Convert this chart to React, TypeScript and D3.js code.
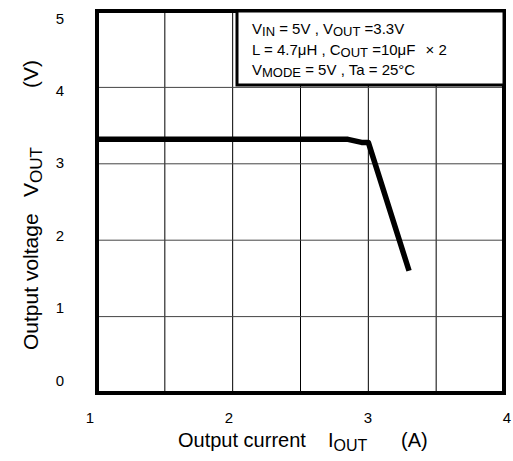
import React from "react";
import * as d3 from "d3";

const iout = [1.0, 2.85, 2.95, 3.0, 3.3];
const vout = [3.32, 3.32, 3.28, 3.28, 1.6];
const xTicks = [1, 2, 3, 4];
const yTicks = [0, 1, 2, 3, 4, 5];
const xGrid = [1.5, 2, 2.5, 3, 3.5];
const yGrid = [1, 2, 3, 4];

const W = 513, H = 461;
const L = 97, R = 504, T = 11, B = 393;

export default function App() {
  const x = d3.scaleLinear().domain([1, 4]).range([L, R]);
  const y = d3.scaleLinear().domain([0, 5]).range([B, T]);
  const xl = d3.scaleLinear().domain([1, 4]).range([90, 507]);
  const yl = d3.scaleLinear().domain([0, 5]).range([380, 18]);
  const line = d3.line<number>().x((_, i) => x(iout[i])).y((d) => y(d));
  const font = "Liberation Sans, Arial, sans-serif";
  return (
    <svg width={W} height={H} style={{ position: "absolute", left: 0, top: 0, background: "#fff" }} fontFamily={font}>
      <rect x={0} y={0} width={W} height={H} fill="#fff" />
      {xGrid.map((g) => (
        <line key={"x" + g} x1={x(g)} x2={x(g)} y1={T} y2={B} stroke="#000" strokeWidth={1} />
      ))}
      {yGrid.map((g) => (
        <line key={"y" + g} x1={L} x2={R} y1={y(g)} y2={y(g)} stroke="#444" strokeWidth={1} />
      ))}
      <path d={line(vout) || ""} fill="none" stroke="#000" strokeWidth={5.5} strokeLinejoin="round" strokeLinecap="butt" />
      <rect x={L} y={T} width={R - L} height={B - T} fill="none" stroke="#000" strokeWidth={4} />
      <rect x={237} y={T} width={R - 237} height={85 - T} fill="#fff" stroke="#000" strokeWidth={3} />
      <g fontSize={15} fill="#000">
        <text x={252} y={34}>
          V<tspan fontSize={13} dy={2}>IN</tspan>
          <tspan dy={-2}> = 5V , V</tspan>
          <tspan fontSize={13} dy={2}>OUT</tspan>
          <tspan dy={-2}> =3.3V</tspan>
        </text>
        <text x={252} y={55}>
          L = 4.7μH , C<tspan fontSize={13} dy={2}>OUT</tspan>
          <tspan dy={-2}> =10μF  </tspan>
          <tspan dx={6}>× 2</tspan>
        </text>
        <text x={252} y={75}>
          V<tspan fontSize={13} dy={2}>MODE</tspan>
          <tspan dy={-2}> = 5V , Ta = 25°C</tspan>
        </text>
      </g>
      <g fontSize={15} fill="#000" textAnchor="middle">
        {xTicks.map((t) => (
          <text key={t} x={xl(t)} y={423}>{t}</text>
        ))}
        {yTicks.map((t) => (
          <text key={t} x={60} y={yl(t) + 5.5}>{t}</text>
        ))}
      </g>
      <text x={178} y={447} fontSize={20} fill="#000">
        Output current
        <tspan x={328}>I</tspan>
        <tspan fontSize={16} dy={4}>OUT</tspan>
        <tspan x={401} dy={-4}>(A)</tspan>
      </text>
      <g transform="translate(38,350) rotate(-90)">
        <text x={0} y={0} fontSize={21} fill="#000">
          Output voltage
          <tspan x={153}>V</tspan>
          <tspan fontSize={17} dy={4}>OUT</tspan>
          <tspan x={262} dy={-4}>(V)</tspan>
        </text>
      </g>
    </svg>
  );
}
